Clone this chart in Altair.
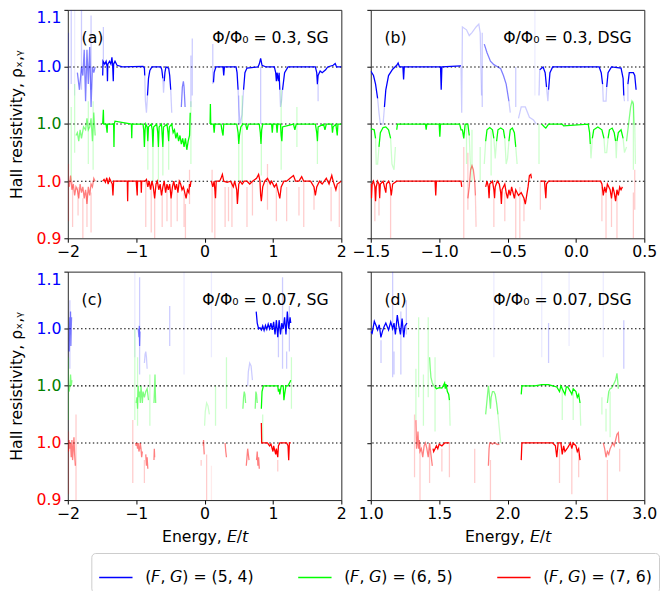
import altair as alt
import pandas as pd

# ---------------- series / styling tables ----------------
SERIES = ["(𝘍, 𝘎) = (5, 4)", "(𝘍, 𝘎) = (6, 5)", "(𝘍, 𝘎) = (7, 6)"]
COLORS = ["#0000ff", "#00ff00", "#ff0000"]
OFFSETS = [0.2, 0.1, 0.0]          # vertical offset of each series
HLINES = [1.0, 1.1, 1.2]           # dotted reference levels
ALPHA = {"S": 1.0, "M": 0.5, "F": 0.2, "V": 0.08}
Y_TICKS = [0.9, 1.0, 1.1, 1.2, 1.3]

# ---------------- panel (a)  Phi/Phi0 = 0.3, SG ----------------
A_BLUE = [
    ("M", [(-1.86, 0.99), (-1.83, 0.96), (-1.8, 1.0), (-1.78, 0.985), (-1.76, 1.03), (-1.74, 0.94), (-1.72, 1.03), (-1.7, 0.97), (-1.68, 1.035), (-1.66, 0.93), (-1.64, 1.0), (-1.62, 0.99), (-1.6, 1.0)]),
    ("S", [(-1.49, 0.985), (-1.485, 1.01), (-1.46, 1.005), (-1.44, 1.01), (-1.425, 1.0), (-1.42, 0.975), (-1.415, 1.005), (-1.39, 1.01), (-1.37, 1.005), (-1.355, 1.017), (-1.345, 1.005), (-1.335, 0.975), (-1.33, 1.005), (-1.31, 1.01), (-1.28, 1.003), (-1.2, 1.0), (-0.9, 1.001), (-0.88, 0.998), (-0.875, 0.985)]),
    ("F", [(-0.875, 0.985), (-0.865, 0.94), (-0.85, 0.92), (-0.835, 0.95)]),
    ("S", [(-0.835, 0.95), (-0.82, 0.98), (-0.8, 0.994), (-0.77, 1.0), (-0.64, 1.0), (-0.625, 0.995), (-0.61, 0.98)]),
    ("F", [(-0.61, 0.98), (-0.6, 0.955), (-0.59, 0.975)]),
    ("S", [(-0.59, 0.975), (-0.58, 0.99), (-0.565, 1.0), (-0.525, 0.998), (-0.51, 0.985), (-0.495, 0.96)]),
    ("F", [(-0.495, 0.96), (-0.48, 0.92)]),
    ("M", [(-0.34, 0.93), (-0.325, 0.965), (-0.31, 0.975), (-0.3, 0.965), (-0.285, 0.93)]),
    ("S", [(0.13, 0.973), (0.14, 0.99), (0.165, 1.0), (0.27, 1.0), (0.28, 0.985), (0.29, 1.0), (0.46, 1.0), (0.475, 0.99), (0.49, 0.96)]),
    ("F", [(0.49, 0.96), (0.5, 0.93), (0.52, 0.9), (0.547, 0.916), (0.57, 0.96)]),
    ("S", [(0.57, 0.96), (0.59, 0.99), (0.62, 0.998), (0.78, 1.0), (0.8, 1.005), (0.82, 1.015), (0.84, 1.003), (0.9, 1.0), (1.02, 1.0), (1.04, 0.99), (1.05, 0.975), (1.06, 0.99), (1.08, 0.975), (1.09, 0.99), (1.1, 0.96)]),
    ("F", [(1.1, 0.96), (1.11, 0.93), (1.125, 0.94), (1.14, 0.96)]),
    ("S", [(1.14, 0.96), (1.17, 0.99), (1.22, 1.0), (1.62, 1.0), (1.64, 0.99), (1.65, 0.97), (1.66, 0.985), (1.69, 0.993), (1.72, 0.99), (1.77, 0.995), (1.8, 1.0), (1.88, 1.003), (1.91, 1.006), (1.93, 1.0), (2.0, 1.0)]),
]
A_BLUE_SPIKES = [("F", -1.99, 1.06, 0.96), ("F", -1.95, 1.1, 0.97), ("V", -1.9, 1.1, 0.95), ("F", -1.8, 1.1, 0.96),
                 ("F", -1.66, 1.09, 0.96), ("F", -1.48, 1.07, 1.0), ("F", -0.2, 1.02, 0.93), ("F", -0.18, 1.05, 0.95),
                 ("F", 0.12, 1.04, 0.97), ("F", 0.82, 1.0, 0.9), ("F", 1.66, 0.97, 0.94), ("F", 0.5, 0.95, 0.9)]

A_GREEN = [
    ("M", [(-1.88, 0.98), (-1.86, 0.985), (-1.84, 0.97), (-1.82, 0.99), (-1.8, 0.975), (-1.77, 0.995), (-1.74, 0.99), (-1.72, 1.01), (-1.7, 0.99), (-1.68, 0.995), (-1.66, 1.01), (-1.64, 0.97), (-1.62, 1.02), (-1.6, 0.98)]),
    ("S", [(-1.49, 1.0), (-1.48, 1.025), (-1.475, 1.0), (-1.44, 1.0), (-1.425, 0.985), (-1.42, 1.0), (-1.33, 1.0), (-1.325, 0.96), (-1.32, 1.0), (-1.31, 1.005), (-1.07, 1.0), (-1.065, 0.975), (-1.06, 1.0), (-0.9, 1.0), (-0.89, 0.99), (-0.88, 0.96), (-0.87, 0.99), (-0.86, 1.0), (-0.84, 0.995), (-0.83, 0.97), (-0.82, 0.995), (-0.78, 1.0), (-0.765, 0.99), (-0.755, 0.96), (-0.745, 0.995), (-0.7, 1.0), (-0.685, 0.985), (-0.675, 0.96), (-0.665, 0.995), (-0.63, 1.0), (-0.62, 0.98), (-0.61, 0.96), (-0.6, 0.995), (-0.55, 1.0), (-0.535, 0.985), (-0.525, 0.97), (-0.515, 0.995), (-0.48, 1.0), (-0.46, 0.985), (-0.44, 0.99), (-0.42, 0.975), (-0.4, 0.985), (-0.38, 0.97), (-0.36, 0.98), (-0.34, 0.965), (-0.32, 0.975), (-0.3, 0.96), (-0.28, 0.975), (-0.26, 0.955), (-0.24, 0.97), (-0.22, 0.98), (-0.21, 1.02)]),
    ("S", [(0.08, 1.0), (0.085, 1.035), (0.09, 1.0), (0.13, 1.0), (0.14, 0.985), (0.15, 1.0), (0.24, 1.0), (0.26, 0.985), (0.27, 0.98), (0.28, 1.0), (0.47, 1.0), (0.49, 0.985), (0.5, 0.965), (0.51, 0.98), (0.53, 0.995), (0.56, 1.0), (0.6, 1.0), (0.62, 0.99), (0.64, 1.0), (0.8, 1.0), (0.815, 0.985), (0.825, 0.965), (0.835, 0.99), (0.85, 1.0), (0.98, 1.0), (0.99, 0.985), (1.0, 1.0), (1.05, 1.0), (1.06, 0.985), (1.07, 1.0), (1.11, 1.0), (1.12, 0.98), (1.13, 0.97), (1.14, 0.995), (1.3, 1.0), (1.32, 0.99), (1.34, 1.0), (1.62, 1.0), (1.64, 0.985), (1.65, 0.97), (1.66, 0.995), (1.74, 1.0), (1.76, 0.99), (1.78, 1.0), (1.86, 1.0), (1.87, 0.985), (1.88, 0.995), (1.92, 1.0), (1.94, 0.98), (1.95, 1.0), (2.0, 1.0)]),
]
A_GREEN_SPIKES = [("F", -1.95, 1.03, 0.9), ("F", -1.7, 1.04, 0.93), ("F", -1.63, 1.04, 0.92), ("F", -1.9, 1.07, 0.95),
                  ("F", -0.83, 0.97, 0.92), ("F", -0.755, 0.96, 0.9), ("F", -0.675, 0.96, 0.9), ("F", -0.61, 0.96, 0.91),
                  ("F", -0.525, 0.97, 0.92), ("F", -0.2, 1.04, 0.93), ("F", 0.5, 0.965, 0.9), ("F", 0.83, 0.965, 0.91),
                  ("F", 0.55, 1.05, 0.9), ("F", 1.12, 1.06, 0.92), ("F", 1.65, 0.97, 0.93), ("F", 1.35, 1.03, 0.96)]

A_RED = [
    ("M", [(-1.98, 0.99), (-1.96, 1.01), (-1.94, 0.985), (-1.92, 0.995), (-1.9, 0.975), (-1.88, 0.99), (-1.86, 0.985), (-1.84, 0.97), (-1.82, 0.995), (-1.8, 0.98), (-1.78, 0.99), (-1.76, 0.97), (-1.74, 0.985), (-1.72, 0.96), (-1.7, 0.99), (-1.68, 0.975), (-1.66, 0.995), (-1.64, 0.99), (-1.62, 1.005), (-1.6, 1.0)]),
    ("S", [(-1.49, 1.0), (-1.47, 1.003), (-1.45, 0.998), (-1.43, 1.006), (-1.41, 0.995), (-1.39, 1.005), (-1.37, 1.0), (-1.35, 0.995), (-1.34, 0.975), (-1.33, 1.0), (-1.2, 1.0), (-1.13, 1.0), (-1.125, 0.965), (-1.12, 1.0), (-1.0, 1.0), (-0.985, 0.975), (-0.98, 1.0), (-0.93, 1.0), (-0.925, 0.98), (-0.92, 1.0), (-0.87, 1.0), (-0.85, 1.003), (-0.83, 0.99), (-0.81, 1.0), (-0.79, 0.985), (-0.77, 1.0), (-0.75, 0.99), (-0.73, 0.97), (-0.71, 0.995), (-0.69, 1.0), (-0.67, 0.985), (-0.65, 0.995), (-0.63, 0.975), (-0.61, 0.99), (-0.59, 1.0), (-0.57, 0.98), (-0.55, 0.995), (-0.53, 0.985), (-0.51, 0.995), (-0.49, 0.97), (-0.47, 0.99), (-0.45, 1.0), (-0.43, 0.985), (-0.41, 0.995), (-0.39, 0.98), (-0.37, 1.0), (-0.35, 0.995), (-0.33, 0.985), (-0.31, 0.99), (-0.29, 0.98), (-0.27, 0.97), (-0.25, 0.985), (-0.23, 0.98), (-0.22, 0.995), (-0.21, 0.99), (-0.2, 1.0)]),
    ("S", [(0.1, 1.0), (0.12, 0.99), (0.14, 1.0), (0.16, 0.97), (0.17, 1.0), (0.22, 1.0), (0.24, 1.005), (0.26, 1.012), (0.28, 1.0), (0.33, 0.998), (0.38, 1.0), (0.42, 0.99), (0.44, 1.0), (0.47, 0.985), (0.48, 0.96), (0.5, 0.995), (0.52, 1.0), (0.55, 0.995), (0.58, 1.0), (0.62, 1.0), (0.66, 0.995), (0.7, 1.0), (0.76, 1.005), (0.79, 1.012), (0.81, 1.0), (0.82, 0.975), (0.83, 0.965), (0.85, 0.99), (0.88, 1.0), (0.92, 1.005), (0.96, 0.995), (0.98, 1.0), (1.02, 0.99), (1.05, 0.995), (1.08, 0.98), (1.1, 0.97), (1.12, 0.99), (1.16, 1.0), (1.2, 1.0), (1.25, 1.005), (1.3, 1.01), (1.33, 1.0), (1.38, 1.0), (1.42, 1.008), (1.45, 1.0), (1.55, 1.0), (1.6, 0.99), (1.62, 0.975), (1.64, 0.99), (1.68, 1.0), (1.72, 0.995), (1.78, 1.005), (1.82, 0.995), (1.86, 1.01), (1.88, 1.0), (1.92, 0.985), (1.94, 0.995), (2.0, 1.0)]),
]
A_RED_SPIKES = [("F", -1.99, 1.03, 0.93), ("F", -1.93, 1.0, 0.92), ("F", -1.85, 0.99, 0.94), ("F", -1.78, 0.97, 0.9),
                ("F", -1.72, 0.98, 0.92), ("F", -1.66, 0.98, 0.91), ("F", -0.86, 1.0, 0.92), ("F", -0.78, 0.99, 0.91),
                ("F", -0.73, 0.97, 0.9), ("F", -0.62, 0.98, 0.92), ("F", -0.55, 0.99, 0.93), ("F", -0.49, 0.97, 0.92),
                ("F", -0.4, 0.98, 0.93), ("F", -0.3, 0.98, 0.92), ("F", -0.22, 1.02, 0.96), ("F", -0.28, 0.96, 0.9),
                ("F", 0.11, 1.02, 0.91), ("F", 0.15, 0.98, 0.9), ("F", 0.3, 0.99, 0.92), ("F", 0.35, 0.99, 0.93),
                ("F", 0.4, 1.0, 0.92), ("F", 0.62, 0.99, 0.92), ("F", 0.7, 1.0, 0.94), ("F", 0.92, 1.03, 0.95),
                ("F", 1.05, 0.99, 0.93), ("F", 1.2, 0.99, 0.93), ("F", 1.38, 0.99, 0.94), ("F", 1.45, 1.0, 0.92),
                ("F", 1.6, 0.99, 0.95), ("F", 1.85, 0.99, 0.93), ("F", 1.97, 1.0, 0.92)]

# ---------------- panel (b)  Phi/Phi0 = 0.3, DSG ----------------
B_BLUE = [
    ("S", [(-1.5, 0.993), (-1.48, 0.985), (-1.465, 0.97), (-1.45, 0.945)]),
    ("F", [(-1.45, 0.945), (-1.44, 0.92), (-1.43, 0.9), (-1.41, 0.9), (-1.4, 0.93)]),
    ("S", [(-1.4, 0.93), (-1.39, 0.96), (-1.37, 0.985), (-1.34, 0.996), (-1.31, 1.003), (-1.3, 1.007), (-1.29, 1.0), (-1.265, 1.0), (-1.26, 0.978), (-1.255, 1.0), (-0.99, 1.0), (-0.985, 0.96), (-0.98, 1.0), (-0.84, 1.002)]),
    ("F", [(-0.84, 1.0), (-0.835, 0.92), (-0.83, 1.07), (-0.8, 1.065), (-0.78, 1.055), (-0.76, 1.06), (-0.73, 1.07), (-0.71, 1.075), (-0.7, 1.06), (-0.69, 0.95)]),
    ("M", [(-0.67, 1.04), (-0.65, 1.025), (-0.625, 1.01), (-0.6, 1.004), (-0.57, 1.0), (-0.55, 0.997), (-0.53, 0.985), (-0.51, 0.97), (-0.49, 0.94)]),
    ("F", [(-0.49, 0.94), (-0.48, 0.92)]),
    ("F", [(-0.42, 0.91), (-0.4, 0.93), (-0.37, 0.93), (-0.34, 0.912), (-0.31, 0.907), (-0.29, 0.9)]),
    ("F", [(-0.27, 0.95), (-0.265, 0.995)]),
    ("S", [(-0.265, 0.995), (-0.24, 1.0), (-0.225, 0.99), (-0.215, 0.965)]),
    ("F", [(-0.215, 0.965), (-0.205, 0.94), (-0.2, 0.96)]),
    ("S", [(-0.2, 0.96), (-0.19, 0.99), (-0.17, 1.0), (0.17, 1.0), (0.185, 0.99), (0.195, 0.97)]),
    ("F", [(0.195, 0.97), (0.2, 0.94), (0.22, 0.94), (0.225, 0.965)]),
    ("S", [(0.225, 0.965), (0.235, 0.99), (0.26, 1.0), (0.33, 0.998), (0.345, 0.98), (0.35, 0.95)]),
    ("F", [(0.35, 0.95), (0.355, 0.94)]),
    ("S", [(0.38, 0.97), (0.39, 0.99), (0.42, 0.99), (0.43, 0.985), (0.44, 0.96)]),
]
B_BLUE_SPIKES = [("F", -0.685, 1.06, 0.93), ("F", 0.38, 0.97, 0.94), ("F", -0.44, 1.0, 0.93), ("V", -0.3, 1.1, 0.95)]

B_GREEN = [
    ("S", [(-1.5, 0.992), (-1.475, 0.99), (-1.465, 0.975)]),
    ("F", [(-1.465, 0.975), (-1.46, 0.93), (-1.45, 0.93), (-1.44, 0.96)]),
    ("S", [(-1.44, 0.96), (-1.43, 0.985), (-1.41, 0.994), (-1.39, 0.995), (-1.37, 0.99), (-1.355, 0.975)]),
    ("F", [(-1.355, 0.975), (-1.345, 0.93), (-1.33, 0.92), (-1.32, 0.96)]),
    ("S", [(-1.31, 0.99), (-1.305, 1.0), (-1.1, 1.0), (-1.095, 0.99), (-1.09, 1.0), (-1.0, 1.0), (-0.995, 0.978), (-0.99, 1.0), (-0.85, 1.0), (-0.84, 0.99), (-0.83, 0.99), (-0.82, 0.975), (-0.81, 1.0), (-0.79, 1.0), (-0.78, 0.98)]),
    ("F", [(-0.78, 0.98), (-0.77, 0.92)]),
    ("F", [(-0.67, 0.93), (-0.66, 0.97)]),
    ("S", [(-0.66, 0.97), (-0.65, 0.99), (-0.63, 0.994), (-0.61, 0.99), (-0.6, 0.975)]),
    ("F", [(-0.6, 0.975), (-0.59, 0.94), (-0.58, 0.97)]),
    ("S", [(-0.58, 0.97), (-0.57, 0.99), (-0.55, 0.993), (-0.53, 0.99), (-0.52, 0.975)]),
    ("F", [(-0.52, 0.975), (-0.51, 0.93), (-0.5, 0.94), (-0.49, 0.97)]),
    ("S", [(-0.49, 0.97), (-0.48, 0.99), (-0.465, 0.993), (-0.45, 0.985), (-0.44, 0.96)]),
    ("F", [(-0.44, 0.96), (-0.43, 0.93)]),
    ("S", [(-0.25, 1.0), (-0.23, 0.995), (-0.22, 0.993), (-0.2, 1.0), (-0.1, 1.0), (-0.09, 0.997), (0.09, 1.0), (0.1, 0.985), (0.105, 0.965)]),
    ("F", [(0.105, 0.965), (0.11, 0.94), (0.12, 0.975)]),
    ("S", [(0.12, 0.975), (0.13, 0.99), (0.16, 0.995), (0.19, 0.99), (0.205, 0.975)]),
    ("F", [(0.205, 0.975), (0.212, 0.95), (0.225, 0.95), (0.235, 0.975)]),
    ("S", [(0.235, 0.975), (0.245, 0.99), (0.265, 0.993), (0.28, 0.985), (0.29, 0.97)]),
    ("F", [(0.29, 0.97), (0.295, 0.94), (0.3, 0.97)]),
    ("S", [(0.3, 0.97), (0.31, 0.985), (0.33, 0.99), (0.345, 0.975)]),
    ("F", [(0.345, 0.975), (0.355, 0.95), (0.37, 0.96)]),
    ("M", [(0.37, 0.97), (0.38, 0.99), (0.39, 1.01), (0.4, 1.03), (0.41, 1.04), (0.42, 1.035), (0.425, 1.0), (0.43, 1.0)]),
    ("F", [(0.43, 1.0), (0.435, 0.93)]),
]
B_GREEN_SPIKES = [("F", -0.8, 1.0, 0.93), ("F", -0.76, 0.99, 0.9), ("F", -0.7, 0.96, 0.9), ("F", -0.62, 0.99, 0.91),
                  ("F", -0.27, 1.0, 0.93), ("F", 0.42, 1.04, 0.92)]

B_RED = [
    ("S", [(-1.5, 0.995), (-1.495, 0.97), (-1.49, 0.995), (-1.48, 1.0), (-1.47, 0.99), (-1.465, 0.965), (-1.46, 0.99), (-1.45, 1.0), (-1.44, 0.995), (-1.435, 0.97), (-1.43, 0.995), (-1.41, 1.0), (-1.4, 0.99), (-1.39, 0.98), (-1.385, 0.995), (-1.37, 1.0), (-1.36, 0.995), (-1.35, 0.975), (-1.34, 0.995), (-1.31, 1.0), (-1.03, 1.0), (-1.025, 0.975), (-1.02, 1.0), (-0.84, 1.0), (-0.835, 0.99)]),
    ("M", [(-0.79, 0.97), (-0.78, 0.99), (-0.77, 1.02), (-0.76, 1.027), (-0.75, 1.02), (-0.74, 1.0), (-0.735, 0.975)]),
    ("F", [(-0.735, 0.975), (-0.73, 0.92)]),
    ("S", [(-0.66, 0.99), (-0.65, 1.0), (-0.64, 0.99), (-0.635, 0.97), (-0.63, 0.995), (-0.61, 1.0), (-0.6, 0.985), (-0.595, 0.97), (-0.59, 0.99), (-0.575, 1.0), (-0.56, 0.995), (-0.55, 0.98), (-0.545, 0.96), (-0.54, 0.985), (-0.52, 0.995), (-0.51, 0.98), (-0.5, 0.97), (-0.49, 0.985), (-0.48, 0.975), (-0.47, 0.99), (-0.46, 0.98), (-0.45, 0.97), (-0.44, 0.985), (-0.42, 0.975), (-0.4, 0.98), (-0.38, 0.97), (-0.37, 0.96), (-0.36, 0.975), (-0.35, 0.99), (-0.34, 1.01), (-0.33, 1.012), (-0.325, 1.005)]),
    ("S", [(-0.26, 1.0), (-0.23, 1.0), (-0.225, 0.985), (-0.22, 0.97), (-0.215, 0.995), (-0.2, 1.0), (0.0, 1.0), (0.1, 1.0), (0.18, 1.0), (0.19, 0.995), (0.2, 0.975), (0.21, 0.99), (0.22, 0.98), (0.23, 0.995), (0.25, 0.985), (0.26, 0.97), (0.27, 0.99), (0.28, 0.98), (0.29, 0.965), (0.3, 0.985), (0.31, 0.975), (0.32, 0.99), (0.33, 0.985), (0.34, 0.99)]),
]
B_RED_SPIKES = [("F", -1.47, 0.99, 0.93), ("F", -1.355, 0.98, 0.9), ("F", -1.44, 0.97, 0.94), ("F", -0.82, 1.06, 0.9),
                ("F", -0.79, 1.05, 0.95), ("F", -0.6, 0.97, 0.92), ("F", -0.52, 0.98, 0.93), ("F", -0.44, 0.98, 0.9),
                ("F", -0.41, 0.99, 0.9), ("F", -0.38, 0.97, 0.93), ("F", 0.19, 0.99, 0.93), ("F", 0.22, 0.98, 0.9),
                ("F", 0.26, 0.97, 0.92), ("F", 0.3, 0.98, 0.9), ("F", 0.42, 0.98, 0.9), ("F", 0.43, 1.02, 0.95),
                ("F", -0.26, 1.0, 0.95)]

# ---------------- panel (c)  Phi/Phi0 = 0.07, SG ----------------
C_BLUE = [
    ("M", [(-1.98, 0.96), (-1.975, 1.0), (-1.97, 1.02), (-1.965, 0.99), (-1.96, 1.03), (-1.955, 0.97), (-1.95, 1.0), (-1.945, 1.02)]),
    ("M", [(-0.97, 1.0), (-0.96, 0.985), (-0.955, 1.005), (-0.95, 0.97), (-0.945, 0.995)]),
    ("F", [(-0.88, 0.94), (-0.87, 0.955), (-0.86, 0.96), (-0.85, 0.95), (-0.84, 0.93)]),
    ("F", [(0.63, 0.9), (0.64, 0.925), (0.66, 0.94), (0.68, 0.935), (0.7, 0.91)]),
    ("S", [(0.755, 1.03), (0.77, 1.01), (0.79, 1.0), (0.81, 1.002), (0.83, 0.998), (0.85, 1.005), (0.87, 0.997), (0.89, 1.006), (0.91, 0.999), (0.93, 1.008), (0.95, 1.0), (0.97, 1.01), (0.99, 0.998), (1.01, 1.012), (1.03, 0.99), (1.05, 1.015), (1.07, 0.985), (1.09, 1.015), (1.11, 0.99), (1.13, 1.01), (1.15, 1.0), (1.17, 1.02), (1.19, 0.99), (1.21, 1.03), (1.23, 1.0), (1.25, 1.02), (1.26, 1.01)]),
]
C_BLUE_SPIKES = [("F", -1.97, 1.05, 0.93), ("F", -0.95, 1.09, 0.92), ("F", -0.51, 1.04, 0.97), ("V", -0.3, 1.1, 0.92),
                 ("F", 1.14, 1.09, 0.93), ("F", 1.2, 0.96, 0.93), ("F", 1.24, 1.04, 0.96), ("F", 1.08, 0.99, 0.95),
                 ("V", -1.02, 1.1, 0.95), ("V", 0.1, 1.1, 0.95)]

C_GREEN = [
    ("M", [(-1.98, 0.99), (-1.97, 1.0), (-1.96, 1.02), (-1.95, 1.0), (-1.94, 1.01)]),
    ("M", [(-1.0, 0.97), (-0.99, 0.98), (-0.98, 0.96), (-0.97, 1.0), (-0.96, 0.98), (-0.95, 0.99), (-0.94, 0.97), (-0.93, 1.0), (-0.92, 0.985), (-0.91, 0.97), (-0.9, 0.99), (-0.88, 0.98), (-0.86, 0.99), (-0.84, 0.995), (-0.82, 0.975)]),
    ("M", [(-0.74, 0.97), (-0.73, 1.0), (-0.725, 1.02), (-0.72, 0.99), (-0.715, 0.97)]),
    ("F", [(0.0, 0.93), (0.01, 0.955), (0.03, 0.97), (0.05, 0.965), (0.07, 0.95)]),
    ("M", [(0.56, 0.96), (0.57, 0.98), (0.58, 0.99), (0.59, 0.985), (0.6, 0.97)]),
    ("M", [(0.74, 0.96), (0.75, 0.99), (0.76, 0.985), (0.77, 0.97)]),
    ("S", [(0.83, 0.96), (0.84, 0.99), (0.86, 1.0), (1.07, 1.0), (1.08, 0.99), (1.09, 0.995), (1.1, 0.985), (1.12, 1.0), (1.15, 1.0), (1.16, 0.975), (1.17, 0.985), (1.19, 1.0), (1.22, 1.0), (1.25, 1.007), (1.26, 1.01)]),
]
C_GREEN_SPIKES = [("F", -1.99, 1.05, 0.94), ("F", -1.02, 1.1, 0.94), ("F", -0.98, 1.05, 0.93), ("F", -0.8, 1.02, 0.93),
                  ("F", 0.32, 1.05, 0.96), ("F", 0.16, 1.0, 0.93), ("F", 0.85, 0.95, 0.9), ("F", 1.27, 1.05, 0.96)]

C_RED = [
    ("M", [(-1.99, 0.985), (-1.98, 1.005), (-1.97, 0.99), (-1.96, 1.0), (-1.95, 0.975), (-1.94, 1.005), (-1.93, 0.97), (-1.92, 0.99), (-1.91, 1.01), (-1.9, 0.98), (-1.89, 0.96)]),
    ("M", [(-1.01, 1.0), (-1.0, 0.995), (-0.99, 1.0), (-0.98, 0.99), (-0.97, 1.0), (-0.96, 0.985), (-0.95, 0.99), (-0.94, 1.0), (-0.93, 0.99), (-0.92, 0.975), (-0.91, 0.985)]),
    ("M", [(-0.86, 0.98), (-0.85, 0.96), (-0.84, 0.975), (-0.83, 0.955)]),
    ("M", [(-0.74, 0.97), (-0.735, 0.99), (-0.73, 0.975)]),
    ("M", [(-0.02, 0.995), (-0.015, 1.005), (-0.01, 0.99), (-0.005, 0.98)]),
    ("M", [(0.3, 1.0), (0.31, 0.985), (0.32, 0.975)]),
    ("M", [(0.61, 0.96), (0.62, 0.975), (0.63, 0.99), (0.64, 0.98), (0.65, 0.97)]),
    ("M", [(0.76, 0.97), (0.77, 0.985), (0.78, 0.96), (0.79, 0.975), (0.8, 0.955)]),
    ("S", [(0.83, 1.035), (0.835, 1.0), (0.86, 1.0), (0.92, 1.0), (0.95, 0.995), (0.97, 0.998), (1.0, 0.985), (1.01, 0.995), (1.04, 0.98), (1.05, 0.99), (1.07, 0.975), (1.08, 0.995), (1.1, 1.0), (1.2, 1.0), (1.22, 0.995), (1.23, 0.97), (1.24, 1.0), (1.26, 1.0)]),
]
C_RED_SPIKES = [("F", -1.88, 1.05, 0.9), ("F", -1.99, 1.02, 0.91), ("F", -0.88, 0.97, 0.93), ("F", -1.05, 1.04, 0.93),
                ("F", -0.05, 0.97, 0.96), ("F", 0.03, 0.98, 0.9), ("F", 1.07, 0.97, 0.95), ("V", 0.1, 0.96, 0.9)]

# ---------------- panel (d)  Phi/Phi0 = 0.07, DSG ----------------
D_BLUE = [
    ("S", [(1.0, 0.995), (1.01, 0.992), (1.026, 1.013), (1.04, 1.005), (1.05, 0.998), (1.062, 1.007), (1.074, 0.985), (1.085, 0.995), (1.098, 1.004), (1.11, 1.01), (1.13, 0.998), (1.146, 1.012), (1.16, 1.0), (1.17, 1.01), (1.18, 0.99), (1.194, 1.024), (1.205, 1.005), (1.217, 0.99), (1.229, 1.018), (1.241, 0.985), (1.25, 1.005), (1.265, 1.01)]),
]
D_BLUE_SPIKES = [("F", 1.075, 0.98, 0.94), ("F", 1.16, 1.1, 0.915), ("F", 1.17, 0.96, 0.92), ("F", 1.22, 1.03, 0.92),
                 ("F", 1.26, 1.05, 0.99), ("F", 2.3, 1.01, 0.94), ("F", 2.85, 1.015, 0.93), ("V", 1.9, 1.1, 0.95),
                 ("V", 2.25, 1.1, 0.95), ("V", 2.7, 1.1, 0.95), ("V", 2.45, 1.1, 0.97)]

D_GREEN = [
    ("M", [(1.43, 1.05), (1.435, 1.03), (1.44, 1.015), (1.45, 1.005), (1.46, 1.0), (1.47, 0.998)]),
    ("S", [(1.47, 0.998), (1.48, 0.995), (1.5, 0.997), (1.52, 0.996), (1.53, 1.0), (1.54, 1.005), (1.545, 0.995), (1.55, 1.003), (1.56, 0.99), (1.57, 0.985), (1.575, 0.975)]),
    ("F", [(1.575, 0.975), (1.58, 0.93)]),
    ("M", [(1.84, 0.95), (1.85, 0.975), (1.86, 1.0), (1.865, 0.99), (1.875, 0.96), (1.88, 0.98), (1.89, 0.99), (1.9, 0.99), (1.91, 0.985), (1.92, 0.97), (1.93, 0.95)]),
    ("F", [(1.93, 0.95), (1.95, 0.9)]),
    ("S", [(2.1, 0.985), (2.105, 1.0), (2.15, 1.0), (2.2, 1.0), (2.25, 1.002), (2.3, 1.002), (2.33, 1.0), (2.36, 0.998), (2.38, 0.99), (2.39, 1.0), (2.4, 0.995), (2.42, 0.985), (2.43, 0.998), (2.44, 0.998), (2.46, 0.99), (2.47, 0.985), (2.48, 0.995), (2.5, 0.99), (2.51, 0.98), (2.52, 0.985), (2.53, 0.97)]),
    ("F", [(2.53, 0.97), (2.535, 0.93)]),
    ("M", [(2.73, 0.97), (2.74, 0.99), (2.75, 0.995), (2.76, 0.996), (2.77, 1.0), (2.78, 1.005), (2.79, 1.01), (2.8, 1.022), (2.805, 1.01), (2.81, 0.995)]),
]
D_GREEN_SPIKES = [("F", 1.33, 1.03, 0.94), ("F", 1.35, 1.12, 0.98), ("F", 1.385, 1.02, 0.93), ("F", 1.42, 1.12, 0.98),
                  ("F", 1.47, 1.05, 0.92), ("F", 2.48, 0.99, 0.94), ("F", 2.4, 1.0, 0.94), ("F", 2.69, 0.98, 0.95),
                  ("F", 2.72, 0.96, 0.92), ("F", 2.75, 0.99, 0.91)]

D_RED = [
    ("M", [(1.33, 1.04), (1.335, 0.99), (1.34, 1.0), (1.345, 1.02), (1.35, 0.99), (1.355, 1.005), (1.36, 0.985), (1.37, 0.99), (1.38, 0.975), (1.39, 0.995), (1.4, 1.0), (1.41, 0.99), (1.42, 0.975), (1.43, 1.0), (1.44, 0.98), (1.45, 0.96)]),
    ("S", [(1.455, 0.99), (1.46, 0.985), (1.47, 0.99), (1.48, 0.995), (1.49, 0.99), (1.5, 0.998), (1.52, 0.995), (1.54, 1.0), (1.56, 1.0), (1.575, 1.0)]),
    ("M", [(1.86, 0.96), (1.865, 0.99), (1.87, 1.0), (1.88, 1.0), (1.89, 0.998), (1.9, 1.0), (1.91, 1.0), (1.92, 0.998), (1.93, 0.997), (1.94, 0.998)]),
    ("S", [(2.1, 0.97), (2.105, 1.0), (2.2, 1.0), (2.3, 1.0), (2.33, 1.0), (2.35, 0.995), (2.36, 0.975), (2.37, 1.0), (2.39, 1.0), (2.4, 0.98), (2.41, 0.995), (2.42, 0.985), (2.44, 0.992), (2.46, 1.0), (2.47, 0.99), (2.48, 1.0), (2.5, 0.995), (2.51, 0.985), (2.52, 0.99), (2.53, 0.97)]),
    ("M", [(2.7, 1.0), (2.71, 0.99), (2.72, 0.975), (2.73, 0.985), (2.74, 0.98), (2.75, 0.99), (2.76, 0.995), (2.77, 1.0), (2.78, 0.995), (2.79, 1.005), (2.8, 1.015), (2.81, 1.018), (2.815, 1.0)]),
]
D_RED_SPIKES = [("F", 1.32, 1.05, 0.94), ("F", 1.36, 1.0, 0.9), ("F", 1.43, 0.99, 0.93), ("F", 1.575, 1.0, 0.94),
                ("F", 1.52, 0.99, 0.95), ("F", 1.76, 0.99, 0.93), ("F", 1.875, 0.97, 0.9), ("F", 2.38, 0.99, 0.93),
                ("F", 2.47, 0.99, 0.91), ("F", 2.52, 0.98, 0.94), ("F", 2.82, 0.99, 0.95), ("F", 2.73, 0.97, 0.9)]

PANELS = [
    dict(key="a", tag="(a)", note="Φ/Φ₀ = 0.3, SG", xdom=[-2, 2], xticks=[-2, -1, 0, 1, 2], fmt="d",
         data=[(A_BLUE, A_BLUE_SPIKES), (A_GREEN, A_GREEN_SPIKES), (A_RED, A_RED_SPIKES)]),
    dict(key="b", tag="(b)", note="Φ/Φ₀ = 0.3, DSG", xdom=[-1.5, 0.5], xticks=[-1.5, -1.0, -0.5, 0.0, 0.5], fmt=".1f",
         data=[(B_BLUE, B_BLUE_SPIKES), (B_GREEN, B_GREEN_SPIKES), (B_RED, B_RED_SPIKES)]),
    dict(key="c", tag="(c)", note="Φ/Φ₀ = 0.07, SG", xdom=[-2, 2], xticks=[-2, -1, 0, 1, 2], fmt="d",
         data=[(C_BLUE, C_BLUE_SPIKES), (C_GREEN, C_GREEN_SPIKES), (C_RED, C_RED_SPIKES)]),
    dict(key="d", tag="(d)", note="Φ/Φ₀ = 0.07, DSG", xdom=[1.0, 3.0], xticks=[1.0, 1.5, 2.0, 2.5, 3.0], fmt=".1f",
         data=[(D_BLUE, D_BLUE_SPIKES), (D_GREEN, D_GREEN_SPIKES), (D_RED, D_RED_SPIKES)]),
]

FONT = "DejaVu Sans"
W, H = 279, 233

LEGEND = alt.Legend(orient="none", legendX=24, legendY=554, direction="horizontal", title=None,
                    symbolType="stroke", symbolStrokeWidth=1.5, symbolSize=1156, labelFontSize=16,
                    labelFont=FONT, padding=7, strokeColor="#cccccc", cornerRadius=4, fillColor="white",
                    columnPadding=42, labelOffset=12, labelLimit=300)


def build_rows(p):
    rows = []
    for s, (lines, spikes) in enumerate(p["data"]):
        off = OFFSETS[s]
        for k, (lvl, pts) in enumerate(lines):
            for i, (x, r) in enumerate(pts):
                rows.append(dict(series=SERIES[s], seg=f"{p['key']}{s}L{k}", i=i, x=x, y=r + off, alpha=ALPHA[lvl]))
        for k, (lvl, x, top, bot) in enumerate(spikes):
            for i, r in enumerate((top, bot)):
                rows.append(dict(series=SERIES[s], seg=f"{p['key']}{s}S{k}", i=i, x=x, y=r + off, alpha=ALPHA[lvl]))
    return pd.DataFrame(rows)


def panel(p, left, bottom):
    df = build_rows(p)
    xaxis = alt.Axis(values=p["xticks"], format=p["fmt"], title="Energy, 𝘌/𝘵" if bottom else None,
                     labelFontSize=16, titleFontSize=16, titleFontWeight="normal", tickSize=4,
                     labelPadding=2, titlePadding=7, grid=False, domain=False, tickColor="black",
                     labelColor="black", labelFont=FONT, titleFont=FONT, labelFlush=False)
    yaxis_kw = dict(values=Y_TICKS, grid=False, domain=False, tickSize=4, tickColor="black", labelFlush=False)
    if left:
        yaxis_kw.update(
            labelExpr="datum.value > 1.25 ? '1.1' : (datum.value < 0.95 ? '0.9' : '1.0')",
            labelFontSize=16, labelFont=FONT, labelPadding=3,
            labelColor={"condition": [{"test": "datum.value > 1.15", "value": "blue"},
                                      {"test": "datum.value > 1.05", "value": "green"}],
                        "value": "red"},
            labelBaseline={"condition": {"test": "datum.value > 1.25", "value": "top"}, "value": "middle"},
            title="Hall resistivity, ρₓ,ᵧ", titleFontSize=16, titleFontWeight="normal", titleFont=FONT,
            titlePadding=12,
        )
    else:
        yaxis_kw.update(labels=False, title=None)
    yenc = alt.Y("y:Q", scale=alt.Scale(domain=[0.9, 1.3], nice=False, zero=False), axis=alt.Axis(**yaxis_kw))
    xenc = alt.X("x:Q", scale=alt.Scale(domain=p["xdom"], nice=False, zero=False), axis=xaxis)

    hl = alt.Chart(pd.DataFrame({"y": HLINES})).mark_rule(
        strokeDash=[1.5, 2.5], color="black", strokeWidth=1.1).encode(y=yenc)
    lines = alt.Chart(df).mark_line(clip=True, strokeWidth=1.3).encode(
        x=xenc, y=yenc,
        color=alt.Color("series:N", scale=alt.Scale(domain=SERIES, range=COLORS), legend=LEGEND),
        detail="seg:N",
        order="i:Q",
        opacity=alt.Opacity("alpha:Q", scale=None),
    )
    tag = alt.Chart(pd.DataFrame({"t": [p["tag"]]})).mark_text(
        align="left", baseline="middle", fontSize=16, font=FONT, color="black").encode(
        x=alt.value(14), y=alt.value(29), text="t:N")
    note = alt.Chart(pd.DataFrame({"t": [p["note"]]})).mark_text(
        align="right", baseline="middle", fontSize=16, font=FONT, color="black").encode(
        x=alt.value(266), y=alt.value(29), text="t:N")
    return alt.layer(hl, lines, tag, note).properties(width=W, height=H)


pa = panel(PANELS[0], True, False)
pb = panel(PANELS[1], False, False)
pc = panel(PANELS[2], True, True)
pd_ = panel(PANELS[3], False, True)

row1 = alt.hconcat(pa, pb, spacing=30, bounds="flush")
row2 = alt.hconcat(pc, pd_, spacing=30, bounds="flush")

chart = alt.vconcat(row1, row2, spacing=10).resolve_scale(color="shared").properties(
    padding={"left": 0, "top": -5, "right": 0, "bottom": 0}
).configure(font=FONT).configure_view(stroke="#262626", strokeWidth=1)

chart.save("out.html", embed_options={"renderer": "svg", "actions": False})
